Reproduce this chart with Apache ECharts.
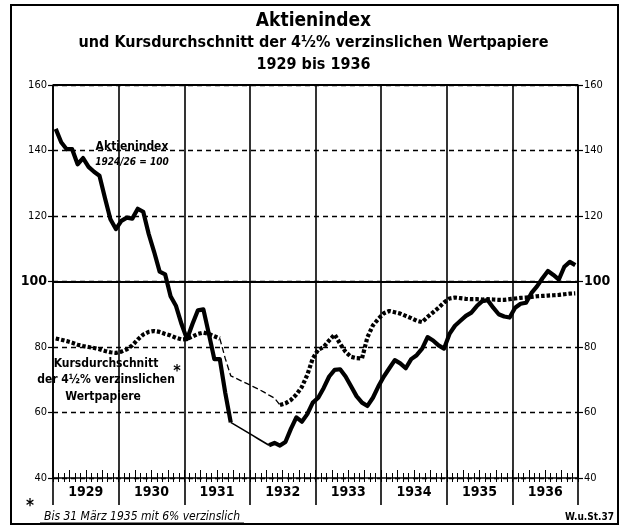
<!DOCTYPE html>
<html><head><meta charset="utf-8">
<script src="https://cdn.jsdelivr.net/npm/echarts@6/dist/echarts.min.js"></script>
<style>html,body{margin:0;padding:0;background:#fff}#c{width:627px;height:528px}</style>
</head><body><div id="c"></div>
<script>
var years = ['1929','1930','1931','1932','1933','1934','1935','1936'];
var yTicks = [40, 60, 80, 100, 120, 140, 160];
// Aktienindex 1924/26 = 100, monthly Jan 1929 - Dec 1936
var stockIndex = [
  146.6,142.5,140.4,140.4,135.8,137.7,135.0,133.5,132.3,125.5,119.0,116.0,
  118.5,119.5,119.2,122.2,121.3,114.5,109.0,103.0,102.2,95.5,92.5,87.0,
  82.4,87.0,91.2,91.5,84.0,76.3,76.3,66.0,57.0,56.0,55.0,54.0,
  53.0,52.0,51.0,50.0,50.7,49.9,51.0,55.0,58.5,57.2,59.5,63.0,
  64.5,67.5,71.0,73.0,73.2,71.0,68.0,65.0,63.0,62.0,64.5,68.0,
  71.0,73.5,76.0,75.0,73.5,76.3,77.5,79.5,83.0,82.0,80.5,79.5,
  84.0,86.5,88.0,89.5,90.5,92.5,94.0,94.3,92.0,90.0,89.3,89.0,
  92.0,93.2,93.5,96.5,98.5,101.0,103.2,102.0,100.6,104.5,106.0,105.0
];
// Kursdurchschnitt der 4 1/2 % verzinslichen Wertpapiere
var bondAvg = [
  82.6,82.2,81.8,81.3,80.7,80.3,80.0,79.7,79.3,78.8,78.4,78.2,
  78.6,79.3,80.5,82.3,83.8,84.6,84.9,84.6,84.0,83.5,82.8,82.3,
  82.4,83.2,84.0,84.4,84.0,83.3,82.6,76.5,71.2,70.4,69.6,68.8,
  68.0,67.2,66.3,65.3,64.4,62.3,62.8,63.8,65.5,67.8,71.5,76.5,
  79.2,80.0,82.0,83.8,81.0,78.5,77.0,76.6,76.5,83.0,86.6,88.6,
  90.3,91.0,90.6,90.2,89.5,88.8,88.0,87.6,89.2,90.6,92.0,93.6,
  94.8,95.1,94.9,94.7,94.6,94.6,94.5,94.6,94.5,94.4,94.4,94.6,
  94.8,95.0,95.1,95.3,95.5,95.6,95.7,95.8,95.9,96.1,96.3,96.4
];
// months with thin line (stock exchange closure period)
var stockThinRange = [32, 39];
var bondThinRange = [30, 41];

var months = [];
years.forEach(function(y){ for (var m = 1; m <= 12; m++) months.push(y + '-' + (m < 10 ? '0' : '') + m); });

function part(arr, r, inside) {
  return arr.map(function(v, i){
    var inR = i >= r[0] && i <= r[1];
    if (inside) return inR ? v : null;
    return (i <= r[0] || i >= r[1]) ? v : null;
  });
}

var F = '"Liberation Sans Narrow", "DejaVu Sans Condensed", sans-serif';
var chart = echarts.init(document.getElementById('c'), null, {renderer: 'canvas'});

function yLabel(v) { return v === 100 ? '{b|100}' : String(v); }
var yAxisBase = {
  type: 'value', min: 40, max: 160, interval: 20,
  axisLine: {show: true, lineStyle: {color: '#000', width: 1.6}},
  axisTick: {show: true, length: 5, lineStyle: {color: '#000', width: 1.2}},
  axisLabel: {color: '#000', fontFamily: F, fontSize: 11, margin: 6,
    formatter: yLabel,
    rich: {b: {fontFamily: F, fontSize: 14, fontWeight: 'bold', color: '#000'}}},
  splitLine: {show: false}
};

var option = {
  animation: false,
  backgroundColor: '#fff',
  grid: {left: 53, right: 49, top: 85, bottom: 50, containLabel: false},
  xAxis: [
    {type: 'category', data: months, position: 'bottom', boundaryGap: true,
      axisLine: {show: true, onZero: false, lineStyle: {color: '#000', width: 1.6}},
      axisTick: {show: true, inside: true, length: 5, interval: 0, lineStyle: {color: '#000', width: 1}},
      axisLabel: {show: false}, splitLine: {show: false}},
    {type: 'category', data: months, position: 'bottom', boundaryGap: true,
      axisLine: {show: false, onZero: false},
      axisTick: {show: true, inside: false, length: 4, interval: 0, lineStyle: {color: '#000', width: 1}},
      axisLabel: {show: false}, splitLine: {show: false}},
    {type: 'category', data: months, position: 'bottom', boundaryGap: true,
      axisLine: {show: false, onZero: false},
      axisTick: {show: true, inside: true, length: 8, interval: 2, lineStyle: {color: '#000', width: 1}},
      axisLabel: {show: false}, splitLine: {show: false}},
    {type: 'category', data: years, position: 'bottom', boundaryGap: true,
      axisLine: {show: false, onZero: false},
      axisTick: {show: true, inside: false, length: 27, lineStyle: {color: '#000', width: 1.6}},
      axisLabel: {show: true, color: '#000', fontFamily: F, fontSize: 14, fontWeight: 'bold', margin: 7},
      splitLine: {show: true, lineStyle: {color: '#000', width: 1.6}}}
  ],
  yAxis: [
    Object.assign({}, yAxisBase, {position: 'left',
      splitLine: {show: true, lineStyle: {color: '#000', width: 1.3, type: [5, 4]}}}),
    Object.assign({}, yAxisBase, {position: 'right'})
  ],
  series: [
    {type: 'line', xAxisIndex: 0, yAxisIndex: 0, data: [], silent: true,
      markLine: {silent: true, symbol: 'none', label: {show: false},
        lineStyle: {color: '#000', width: 2, type: 'solid'},
        data: [{yAxis: 100}, {yAxis: 160}]}},
    {name: 'bondThick', type: 'line', xAxisIndex: 0, yAxisIndex: 0, showSymbol: false, symbol: 'none',
      data: part(bondAvg, bondThinRange, false), connectNulls: false,
      lineStyle: {color: '#000', width: 4.2, type: [3.5, 2], cap: 'butt'}},
    {name: 'bondThin', type: 'line', xAxisIndex: 0, yAxisIndex: 0, showSymbol: false, symbol: 'none',
      data: part(bondAvg, bondThinRange, true), connectNulls: false,
      lineStyle: {color: '#000', width: 1.3, type: [6, 3]}},
    {name: 'stockThick', type: 'line', xAxisIndex: 0, yAxisIndex: 0, showSymbol: false, symbol: 'none',
      data: part(stockIndex, stockThinRange, false), connectNulls: false,
      lineStyle: {color: '#000', width: 4.2, join: 'round'}},
    {name: 'stockThin', type: 'line', xAxisIndex: 0, yAxisIndex: 0, showSymbol: false, symbol: 'none',
      data: part(stockIndex, stockThinRange, true), connectNulls: false,
      lineStyle: {color: '#000', width: 1.6}}
  ],
  graphic: [
    {type: 'rect', shape: {x: 11, y: 5, width: 607, height: 519}, style: {fill: 'none', stroke: '#000', lineWidth: 2}, z: 100},
    {type: 'text', left: 'center', top: 12, style: {text: 'Aktienindex', font: 'bold 19px ' + F, fill: '#000'}},
    {type: 'text', left: 'center', top: 35, style: {text: 'und Kursdurchschnitt der 4½% verzinslichen Wertpapiere', font: 'bold 16px ' + F, fill: '#000'}},
    {type: 'text', left: 'center', top: 57, style: {text: '1929 bis 1936', font: 'bold 16px ' + F, fill: '#000'}},
    {type: 'text', x: 132, y: 147, style: {text: 'Aktienindex', font: 'bold 12px ' + F, fill: '#000', align: 'center', verticalAlign: 'middle', backgroundColor: '#fff'}},
    {type: 'text', x: 132, y: 162, style: {text: '1924/26 = 100', font: 'italic bold 10px ' + F, fill: '#000', align: 'center', verticalAlign: 'middle', backgroundColor: '#fff'}},
    {type: 'text', x: 106, y: 364, style: {text: 'Kursdurchschnitt', font: 'bold 12px ' + F, fill: '#000', align: 'center', verticalAlign: 'middle', backgroundColor: '#fff'}},
    {type: 'text', x: 106, y: 380, style: {text: 'der 4½% verzinslichen', font: 'bold 12px ' + F, fill: '#000', align: 'center', verticalAlign: 'middle', backgroundColor: '#fff'}},
    {type: 'text', x: 103, y: 397, style: {text: 'Wertpapiere', font: 'bold 12px ' + F, fill: '#000', align: 'center', verticalAlign: 'middle', backgroundColor: '#fff'}},
    {type: 'text', x: 177, y: 372, style: {text: '*', font: 'bold 16px ' + F, fill: '#000', align: 'center', verticalAlign: 'middle'}},
    {type: 'text', x: 30, y: 507, style: {text: '*', font: 'bold 17px ' + F, fill: '#000', align: 'center', verticalAlign: 'middle'}},
    {type: 'text', x: 44, y: 517, style: {text: 'Bis 31 März 1935 mit 6% verzinslich', font: 'italic 12px ' + F, fill: '#000', verticalAlign: 'middle'}},
    {type: 'line', shape: {x1: 40, y1: 523, x2: 244, y2: 523}, style: {stroke: '#000', lineWidth: 1.2}},
    {type: 'text', x: 614, y: 517, style: {text: 'W.u.St.37', font: 'bold 10px ' + F, fill: '#000', align: 'right', verticalAlign: 'middle'}}
  ]
};
chart.setOption(option);
</script></body></html>
